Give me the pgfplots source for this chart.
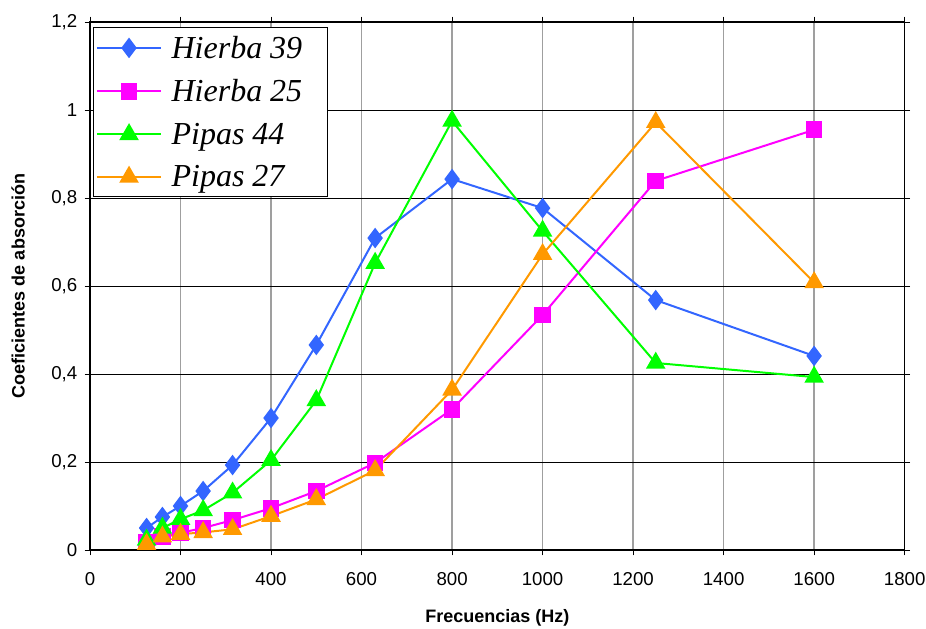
\documentclass[border=0pt]{standalone}
\usepackage{pgfplots}
\pgfplotsset{compat=1.18}
\usepackage{fontspec}
\setmainfont{Liberation Sans}
\newfontfamily\legfont{Liberation Serif}
\definecolor{cblue}{RGB}{51,102,255}
\definecolor{cmag}{RGB}{255,0,255}
\definecolor{cgreen}{RGB}{0,255,0}
\definecolor{corange}{RGB}{255,153,0}
\begin{document}
\begin{tikzpicture}
\begin{axis}[
  scale only axis,
  width=611pt, height=396pt,
  xmin=0, xmax=1800, ymin=0, ymax=1.2,
  xtick={0,200,...,1800},
  ytick={0,0.2,...,1.2},
  yticklabels={0,{0,2},{0,4},{0,6},{0,8},1,{1,2}},
  /pgf/number format/assume math mode=true,
  scaled x ticks=false,
  xticklabel style={/pgf/number format/1000 sep={}, yshift=-9pt},
  yticklabel style={xshift=-2pt},
  tick label style={font=\fontsize{14}{16}\selectfont},
  xlabel={\bfseries Frecuencias (Hz)},
  ylabel={\bfseries Coeficientes de absorción},
  label style={font=\fontsize{13.5}{16}\selectfont\bfseries},
  xlabel style={yshift=-11pt},
  ylabel style={yshift=13pt},
  grid=major,
  x grid style={gray!75, line width=1.2pt},
  y grid style={black, line width=0.7pt},
  axis line style={black, line width=0.9pt},
  tick style={black, line width=0.7pt},
  tick align=outside,
  major tick length=4pt,
  legend style={at={(0,1)}, anchor=north west, xshift=2pt, yshift=-4pt,
    draw=black, fill=white, line width=0.7pt,
    font=\fontsize{24}{27}\selectfont\legfont\itshape, row sep=10.5pt,
    inner xsep=2pt, inner ysep=4pt, legend columns=1},
  legend cell align=left,
  legend image code/.code={
    \draw[mark repeat=2,mark phase=2] plot coordinates {(0cm,0cm) (0.85cm,0cm) (1.7cm,0cm)};
  },
]
\coordinate (O) at (rel axis cs:0,0);
\addplot[cblue, line width=1.5pt, mark=diamond*, mark size=6.5pt, mark options={fill=cblue, draw=cblue}] coordinates {
(125,0.05)(160,0.075)(200,0.10)(250,0.134)(315,0.193)(400,0.30)(500,0.466)(630,0.709)(800,0.843)(1000,0.777)(1250,0.568)(1600,0.441)};
\addlegendentry{\hspace*{5pt}Hierba 39\hspace*{15pt}}
\addplot[cmag, line width=1.5pt, mark=square*, mark size=5.5pt, mark options={fill=cmag, draw=cmag}] coordinates {
(125,0.018)(160,0.03)(200,0.039)(250,0.05)(315,0.068)(400,0.095)(500,0.134)(630,0.198)(800,0.32)(1000,0.534)(1250,0.839)(1600,0.955)};
\addlegendentry{\hspace*{5pt}Hierba 25\hspace*{15pt}}
\addplot[cgreen, line width=1.5pt, mark=triangle*, mark size=7pt, mark options={fill=cgreen, draw=cgreen}] coordinates {
(125,0.023)(160,0.05)(200,0.07)(250,0.09)(315,0.13)(400,0.204)(500,0.34)(630,0.652)(800,0.975)(1000,0.725)(1250,0.425)(1600,0.393)};
\addlegendentry{\hspace*{5pt}Pipas 44}
\addplot[corange, line width=1.5pt, mark=triangle*, mark size=7pt, mark options={fill=corange, draw=corange}] coordinates {
(125,0.013)(160,0.03)(200,0.036)(250,0.04)(315,0.047)(400,0.077)(500,0.115)(630,0.181)(800,0.364)(1000,0.672)(1250,0.972)(1600,0.608)};
\addlegendentry{\hspace*{5pt}Pipas 27}
\end{axis}
\pgfresetboundingbox
\path (O) ++(-67.5pt,-59.25pt) rectangle ++(694.5pt,471.75pt);
\end{tikzpicture}
\end{document}
